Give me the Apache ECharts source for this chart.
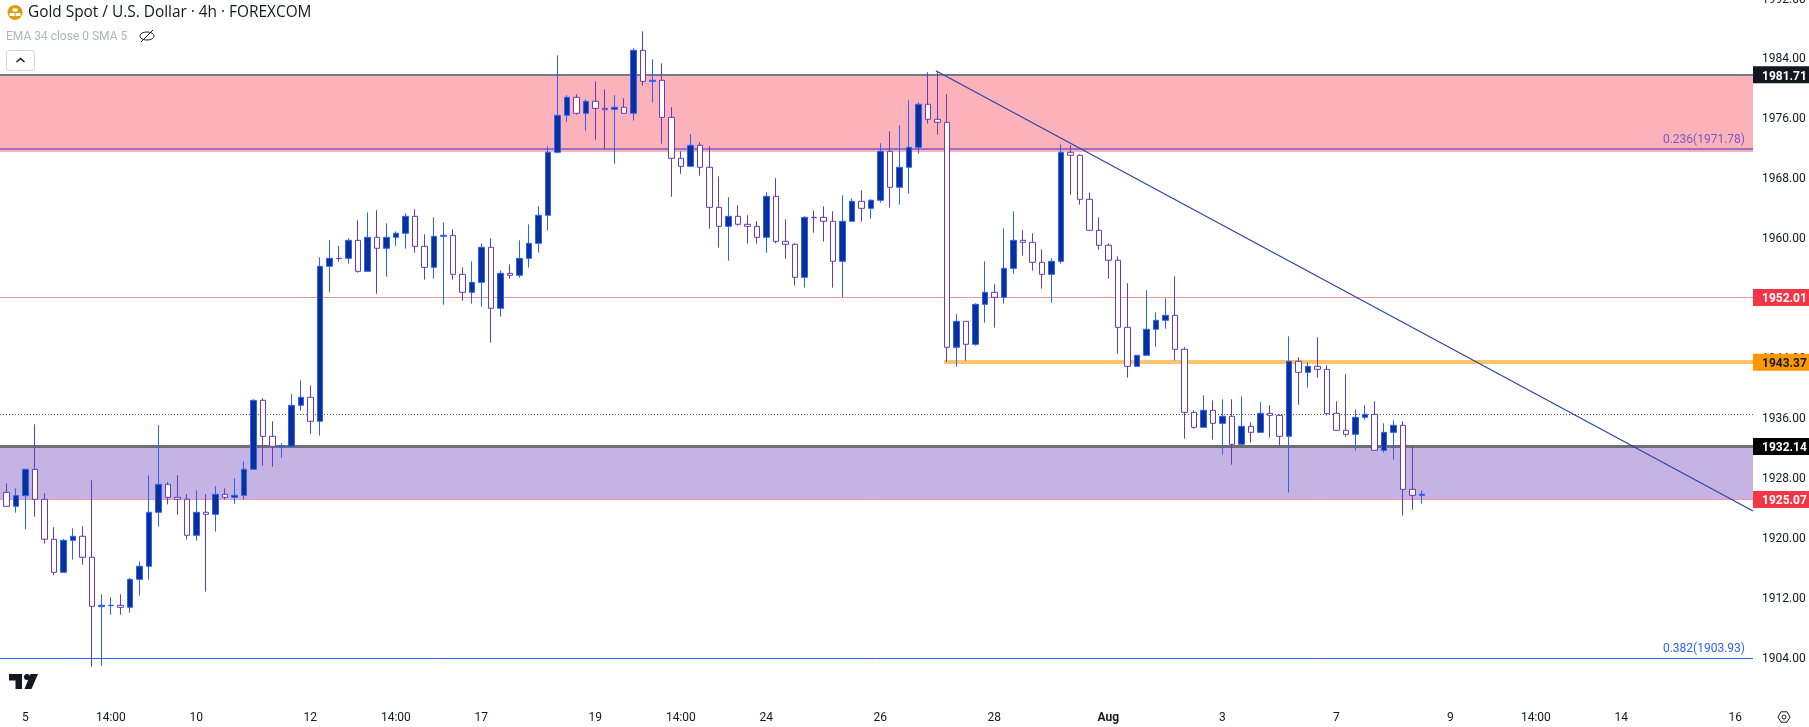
<!DOCTYPE html>
<html>
<head>
<meta charset="utf-8">
<title>Gold Spot / U.S. Dollar</title>
<script src="https://cdn.jsdelivr.net/npm/echarts@6/dist/echarts.min.js"></script>
<style>
  html, body { margin: 0; padding: 0; background: #fff; }
  #chart { width: 1809px; height: 727px; }
</style>
</head>
<body>
<div id="chart"></div>
<script>
const opens = [
  1926.02,1924.16,1925.58,1929.09,1925.09,1919.76,1915.36,1919.62,1920.16,1917.36,
  1910.78,1910.91,1910.96,1910.69,1914.42,1916.16,1923.36,1927.09,1925.36,1925.09,
  1920.29,1923.36,1923.09,1925.76,1925.36,1925.62,1929.09,1938.29,1933.49,1932.11,
  1932.16,1937.62,1938.69,1935.49,1956.16,1957.22,1957.22,1959.62,1955.49,1960.02,
  1958.56,1960.02,1960.56,1962.82,1958.82,1956.02,1960.16,1960.29,1955.09,1952.69,
  1954.02,1958.69,1950.56,1955.22,1954.96,1957.22,1959.22,1962.96,1971.36,1976.29,
  1978.69,1976.56,1978.16,1977.22,1977.09,1977.36,1976.56,1984.96,1980.82,1980.96,
  1976.02,1970.56,1969.49,1972.29,1969.36,1964.02,1961.49,1962.82,1961.76,1961.49,
  1960.02,1965.49,1959.49,1959.09,1954.69,1962.69,1962.69,1962.16,1956.82,1962.16,
  1964.82,1963.89,1964.96,1971.49,1966.69,1969.36,1972.02,1977.76,1975.76,1975.36,
  1945.36,1948.82,1945.76,1951.09,1952.69,1952.02,1955.89,1959.62,1959.36,1956.69,
  1955.09,1956.82,1971.36,1970.96,1965.09,1960.96,1958.96,1956.96,1948.02,1942.82,
  1944.29,1947.76,1948.96,1949.62,1945.09,1936.69,1934.69,1936.96,1935.22,1936.16,
  1932.42,1934.82,1934.02,1936.56,1936.29,1933.49,1943.49,1942.02,1942.82,1942.42,
  1936.56,1934.29,1933.76,1936.02,1936.42,1931.62,1934.02,1934.96,1926.42,1925.62
];
const closes = [
  1924.16,1925.58,1929.09,1925.09,1919.76,1915.36,1919.62,1920.16,1917.36,1910.82,
  1910.96,1910.96,1910.69,1914.42,1916.16,1923.36,1927.09,1925.36,1925.09,1920.29,
  1923.36,1923.09,1925.76,1925.36,1925.62,1929.09,1938.29,1933.49,1932.16,1932.2,
  1937.62,1938.69,1935.49,1956.16,1957.22,1957.18,1959.62,1955.49,1960.02,1958.56,
  1960.02,1960.56,1962.82,1958.82,1956.02,1960.16,1960.29,1955.09,1952.69,1954.02,
  1958.69,1950.56,1955.22,1954.96,1957.22,1959.22,1962.96,1971.36,1976.29,1978.69,
  1976.56,1978.16,1977.22,1977.04,1977.36,1976.56,1984.96,1980.82,1980.96,1976.02,
  1970.56,1969.49,1972.29,1969.36,1964.02,1961.49,1962.82,1961.76,1961.49,1960.02,
  1965.49,1959.49,1959.09,1954.69,1962.69,1962.64,1962.16,1956.82,1962.16,1964.82,
  1963.89,1964.96,1971.49,1966.69,1969.36,1972.02,1977.76,1975.76,1975.36,1945.36,
  1948.82,1945.76,1951.09,1952.69,1952.02,1955.89,1959.62,1959.36,1956.69,1955.09,
  1956.82,1971.36,1970.96,1965.09,1960.96,1958.96,1956.96,1948.02,1942.82,1944.29,
  1947.76,1948.96,1949.62,1945.09,1936.69,1934.69,1936.96,1935.22,1936.16,1932.42,
  1934.82,1934.02,1936.56,1936.29,1933.49,1943.49,1942.02,1942.82,1942.42,1936.51,
  1934.29,1933.76,1936.02,1936.42,1931.62,1934.02,1934.96,1926.42,1925.62,1925.76
];
const lows = [
  1924.16,1923.31,1921.09,1922.78,1919.18,1914.96,1915.36,1917.04,1916.38,1902.78,
  1902.91,1909.71,1909.71,1909.98,1912.24,1914.38,1921.44,1924.42,1923.04,1919.71,
  1919.58,1912.78,1920.78,1925.04,1924.51,1925.04,1929.09,1929.58,1929.44,1930.64,
  1932.16,1936.91,1933.84,1933.58,1952.69,1956.78,1956.51,1955.31,1955.49,1952.51,
  1954.78,1958.91,1958.51,1957.98,1954.38,1954.51,1951.04,1954.38,1951.58,1951.18,
  1950.78,1945.98,1949.44,1954.51,1954.64,1955.98,1957.98,1960.91,1971.22,1975.44,
  1976.38,1974.24,1973.04,1971.76,1969.84,1976.56,1975.58,1980.24,1977.98,1972.51,
  1965.44,1968.51,1969.49,1968.24,1961.18,1958.64,1956.91,1961.58,1959.18,1959.18,
  1957.98,1959.22,1957.18,1953.58,1953.31,1960.64,1959.44,1953.31,1952.02,1962.16,
  1962.11,1962.51,1964.64,1963.98,1964.38,1965.84,1971.18,1975.18,1973.71,1943.4,
  1942.78,1943.58,1945.58,1948.64,1947.98,1951.18,1955.18,1957.58,1955.58,1953.18,
  1951.31,1956.51,1965.71,1964.38,1960.96,1958.38,1954.51,1944.51,1941.31,1942.82,
  1944.29,1945.44,1947.84,1943.62,1933.18,1934.51,1934.69,1933.04,1931.04,1929.71,
  1932.42,1932.64,1934.02,1933.31,1932.29,1925.98,1937.71,1939.98,1941.31,1936.24,
  1934.29,1933.44,1931.58,1935.71,1931.62,1931.31,1930.38,1922.91,1923.71,1924.51
];
const highs = [
  1927.22,1926.56,1929.09,1935.09,1925.89,1921.36,1919.8,1921.22,1921.49,1927.62,
  1912.42,1912.02,1912.42,1914.6,1916.82,1928.29,1934.96,1927.36,1928.29,1925.76,
  1926.29,1925.76,1926.82,1926.56,1927.89,1930.16,1938.42,1938.56,1935.49,1932.56,
  1939.09,1940.96,1940.29,1957.36,1959.67,1958.87,1959.89,1962.29,1963.36,1963.62,
  1961.89,1960.82,1963.22,1963.76,1960.42,1962.69,1962.02,1961.09,1956.02,1956.82,
  1959.22,1959.89,1955.62,1956.42,1959.62,1961.76,1964.16,1972.16,1984.29,1978.96,
  1979.09,1978.42,1980.82,1979.76,1978.96,1978.56,1985.22,1987.49,1983.76,1983.22,
  1977.36,1971.49,1973.76,1972.69,1972.16,1968.16,1965.36,1964.29,1962.96,1962.16,
  1966.02,1967.89,1962.42,1959.22,1962.82,1963.62,1964.16,1963.49,1965.62,1965.22,
  1966.29,1965.09,1972.56,1974.16,1974.96,1978.29,1978.02,1982.02,1982.16,1979.09,
  1949.76,1948.82,1951.22,1956.82,1953.76,1961.22,1963.49,1960.96,1960.56,1958.42,
  1957.22,1972.42,1972.29,1971.09,1966.02,1962.69,1959.22,1957.49,1953.89,1944.29,
  1952.96,1950.02,1951.89,1954.82,1945.36,1936.96,1938.96,1938.29,1938.42,1938.42,
  1938.82,1935.36,1938.02,1937.62,1936.42,1946.82,1944.02,1943.36,1946.69,1942.96,
  1938.16,1941.76,1937.09,1937.62,1938.16,1935.22,1935.62,1935.49,1932.16,1926.29
];

const tickBars = [2, 11, 20, 32, 41, 50, 62, 71, 80, 92, 104, 116, 128, 140, 152, 161, 170, 182];
const tickLabels = ['5', '14:00', '10', '12', '14:00', '17', '19', '14:00', '24', '26', '28', 'Aug', '3', '7', '9', '14:00', '14', '16'];
const priceTicks = [1904, 1912, 1920, 1928, 1936, 1944, 1952, 1960, 1968, 1976, 1984, 1992];

const upperZone = [1981.71, 1971.4];
const lowerZone = [1932.14, 1925.07];
const fibRatios = ['0.236', '0.382'];
const fibPrices = [1971.78, 1903.93];
const midLevel = 1952.01;
const supportLevel = 1943.37;
const dottedLevel = 1936.4;
const supportStartBar = 98.7;
const tagPrices = [upperZone[0], midLevel, supportLevel, lowerZone[0], lowerZone[1]];
const trendBars = [97.85, 183.86];
const trendPrices = [1982.24, 1923.53];

const FONT = 'Roboto, sans-serif';
const INK = '#131722';
const xMin = -0.6667;
const xMax = 183.86;
const tagColors = ['#131722', '#f23645', '#ff9800', '#000000', '#f23645'];
const tagTextColors = ['#fff', '#fff', INK, '#fff', '#fff'];

function levelLine(price, color, width, opts) {
  opts = opts || {};
  return [{
    coord: [opts.from === undefined ? xMin : opts.from, price],
    lineStyle: {color: color, width: width, type: opts.type || 'solid', opacity: 1},
    label: opts.label || {show: false}
  }, {
    coord: [xMax, price]
  }];
}

function fibLabel(ratio, price, color) {
  return {
    show: true,
    position: 'insideEndTop',
    distance: [8, 3],
    formatter: `${ratio}(${price.toFixed(2)})`,
    fontFamily: FONT,
    fontSize: 12,
    color: color
  };
}

// price tags sitting on the right axis
function renderTag(params, api) {
  const point = api.coord([xMax, api.value(1)]);
  const i = params.dataIndex;
  return {
    type: 'group',
    children: [{
      type: 'rect',
      shape: {x: point[0], y: point[1] - 8.5, width: 56, height: 17},
      style: {fill: tagColors[i]}
    }, {
      type: 'text',
      style: {
        x: point[0] + 9,
        y: point[1] + 2,
        text: api.value(1).toFixed(2),
        fill: tagTextColors[i],
        font: `bold 12px ${FONT}`,
        verticalAlign: 'middle'
      }
    }]
  };
}

function header() {
  return [
    {type: 'circle', shape: {cx: 15, cy: 12.5, r: 7.5}, style: {fill: '#e09c0d'}},
    {type: 'rect', shape: {x: 12.5, y: 8.5, width: 5, height: 3}, style: {fill: '#fff'}},
    {type: 'rect', shape: {x: 9.5, y: 13, width: 5, height: 3}, style: {fill: '#fff'}},
    {type: 'rect', shape: {x: 15.5, y: 13, width: 5, height: 3}, style: {fill: '#fff'}},
    {type: 'text', x: 28, y: 13, style: {text: 'Gold Spot / U.S. Dollar · 4h · FOREXCOM', fontFamily: '"Open Sans", sans-serif', fontSize: 15.4, fill: INK, verticalAlign: 'middle'}},
    {type: 'text', x: 6, y: 36.5, style: {text: 'EMA 34 close 0 SMA 5', fontFamily: FONT, fontSize: 12, fill: '#b2b5be', verticalAlign: 'middle'}},
    {type: 'ellipse', shape: {cx: 147, cy: 36, rx: 7, ry: 4}, style: {fill: 'none', stroke: INK, lineWidth: 1}},
    {type: 'line', shape: {x1: 141, y1: 42, x2: 153, y2: 30}, style: {stroke: INK, lineWidth: 1}},
    {type: 'rect', shape: {x: 6.5, y: 50.5, width: 28, height: 20, r: 3}, style: {fill: '#fff', stroke: '#d1d4dc', lineWidth: 1}},
    {type: 'polyline', shape: {points: [[16.5, 62], [20.5, 58.5], [24.5, 62]]}, style: {fill: 'none', stroke: INK, lineWidth: 1.5}},
    // TradingView logo
    {type: 'polygon', shape: {points: [[9, 674], [22, 674], [22, 689], [15.5, 689], [15.5, 680.5], [9, 680.5]]}, style: {fill: INK}},
    {type: 'circle', shape: {cx: 27, cy: 677, r: 3}, style: {fill: INK}},
    {type: 'polygon', shape: {points: [[38, 674], [31.5, 689], [24.5, 689], [30.5, 674]]}, style: {fill: INK}},
    // settings gear
    {type: 'polygon', shape: {points: [[1778, 717], [1781, 711.8], [1787, 711.8], [1790, 717], [1787, 722.2], [1781, 722.2]]}, style: {fill: 'none', stroke: INK, lineWidth: 1}},
    {type: 'circle', shape: {cx: 1784, cy: 717, r: 2}, style: {fill: 'none', stroke: INK, lineWidth: 1}}
  ];
}

const candles = opens.map((open, i) => [i, open, closes[i], lows[i], highs[i]]);

const chart = echarts.init(document.getElementById('chart'));
chart.setOption({
  animation: false,
  backgroundColor: '#ffffff',
  textStyle: {fontFamily: FONT},
  grid: {left: 0, top: -2.5, width: 1753, height: 702.5, outerBoundsMode: 'none'},
  xAxis: {
    type: 'value',
    min: xMin,
    max: xMax,
    splitLine: {show: false},
    axisLine: {show: false},
    axisTick: {show: false},
    axisLabel: {
      customValues: tickBars,
      formatter: v => {
        const text = tickLabels[tickBars.indexOf(v)];
        return text === 'Aug' ? `{month|${text}}` : text;
      },
      rich: {month: {fontWeight: 'bold', fontFamily: FONT, fontSize: 12, color: INK}},
      color: INK,
      fontFamily: FONT,
      fontSize: 12,
      margin: 12
    }
  },
  yAxis: {
    type: 'value',
    position: 'right',
    min: 1898.33,
    max: 1992,
    splitLine: {show: false},
    axisLine: {show: false},
    axisTick: {show: false},
    axisLabel: {
      customValues: priceTicks,
      formatter: v => v.toFixed(2),
      color: INK,
      fontFamily: FONT,
      fontSize: 12,
      verticalAlign: 'top',
      lineHeight: 4,
      margin: 9
    }
  },
  series: [{
    name: 'levels',
    type: 'line',
    data: [],
    z: 1,
    markArea: {
      silent: true,
      z: 1,
      label: {show: false},
      data: [
        [{coord: [xMin, upperZone[0]], itemStyle: {color: '#fbb2ba', opacity: 1}}, {coord: [xMax, upperZone[1]]}],
        [{coord: [xMin, lowerZone[0]], itemStyle: {color: '#c5b4e3', opacity: 1}}, {coord: [xMax, lowerZone[1]]}]
      ]
    },
    markLine: {
      silent: true,
      z: 1,
      symbol: 'none',
      animation: false,
      data: [
        levelLine(upperZone[0], '#787b86', 2),
        levelLine(fibPrices[0], '#7e57c2', 1.5, {label: fibLabel(fibRatios[0], fibPrices[0], '#7e57c2')}),
        levelLine(midLevel, '#f0959c', 1),
        levelLine(supportLevel, '#ffc46b', 4, {from: supportStartBar}),
        levelLine(dottedLevel, '#555555', 1, {type: [1, 2]}),
        levelLine(lowerZone[0], '#6f6f73', 3),
        levelLine(lowerZone[1], '#f0959c', 1),
        levelLine(fibPrices[1], '#2962ff', 1, {label: fibLabel(fibRatios[1], fibPrices[1], '#2962ff')})
      ]
    }
  }, {
    name: 'XAU/USD',
    type: 'candlestick',
    z: 2,
    barWidth: 6,
    encode: {x: 0, y: [1, 2, 3, 4]},
    data: candles,
    itemStyle: {
      color: '#0d3097',
      color0: '#ffffff',
      borderColor: '#2962ff',
      borderColor0: '#673ab7',
      borderWidth: 1
    }
  }, {
    name: 'trend',
    type: 'line',
    z: 3,
    showSymbol: false,
    silent: true,
    data: trendBars.map((bar, i) => [bar, trendPrices[i]]),
    lineStyle: {color: '#2c44a4', width: 1.2}
  }, {
    name: 'tags',
    type: 'custom',
    z: 4,
    clip: false,
    silent: true,
    renderItem: renderTag,
    encode: {x: 0, y: 1},
    data: tagPrices.map(price => [xMax, price])
  }],
  graphic: {elements: header()}
});
</script>
</body>
</html>
